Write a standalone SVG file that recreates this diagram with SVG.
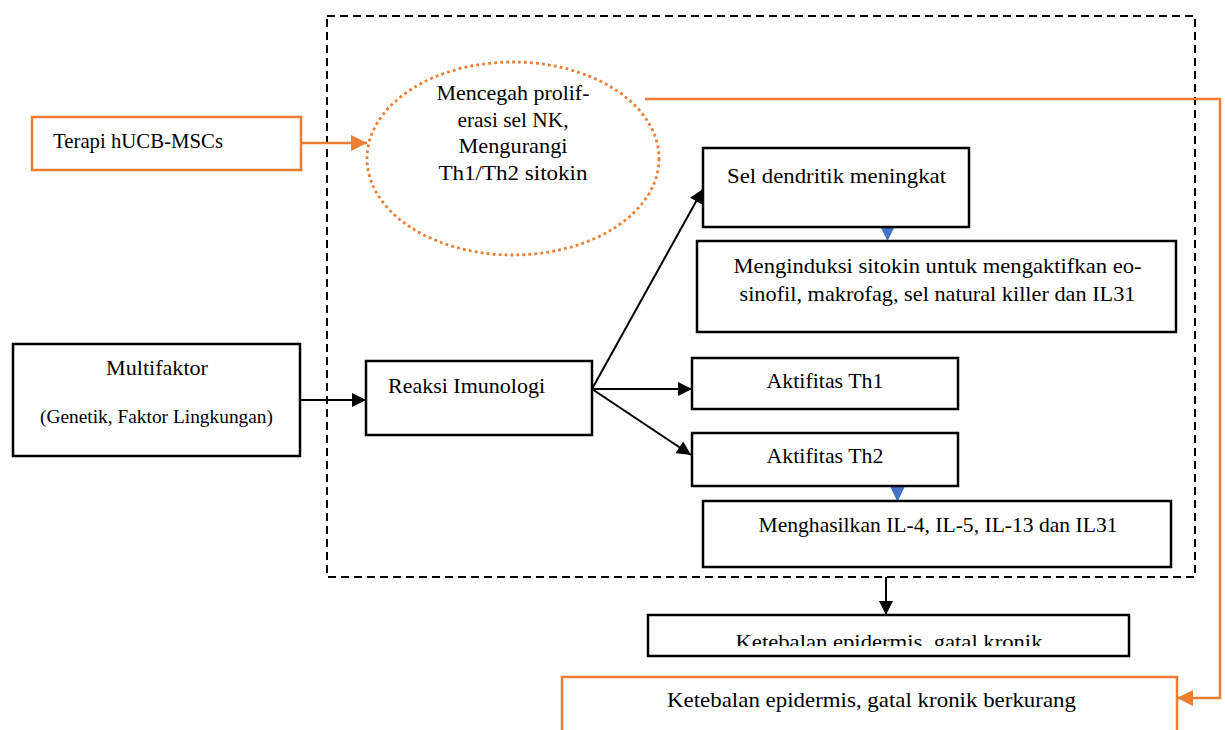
<svg xmlns="http://www.w3.org/2000/svg" width="1225" height="730" viewBox="0 0 1225 730">
<defs>
<style>
.t{font-family:"Liberation Serif","Times New Roman",serif;font-size:21px;fill:#000}
.c{text-anchor:middle}
.box{fill:#fff;stroke:#000;stroke-width:2.5}
.obox{fill:#fff;stroke:#ED7D31;stroke-width:2.5}
.ln{fill:none;stroke:#000;stroke-width:2}
.oln{fill:none;stroke:#ED7D31;stroke-width:2.5}
</style>
<marker id="ah" markerUnits="userSpaceOnUse" markerWidth="16" markerHeight="14" refX="14" refY="7" orient="auto">
<path d="M0,0 L14,7 L0,14 Z" fill="#000"/>
</marker>
<marker id="oh" markerUnits="userSpaceOnUse" markerWidth="18" markerHeight="16" refX="16" refY="8" orient="auto">
<path d="M0,0 L16,8 L0,16 Z" fill="#ED7D31"/>
</marker>
<clipPath id="clipK"><rect x="640" y="610" width="500" height="36"/></clipPath>
</defs>

<rect x="327" y="16" width="868" height="561" fill="none" stroke="#000" stroke-width="2" stroke-dasharray="8 5"/>

<g id="connectors">
<line class="oln" x1="301" y1="143" x2="367" y2="143" marker-end="url(#oh)"/>
<polyline class="oln" points="645,99 1220,99 1220,698 1177,698" marker-end="url(#oh)"/>
<line class="ln" x1="301" y1="400" x2="366" y2="400" marker-end="url(#ah)"/>
<line class="ln" x1="592" y1="389" x2="703" y2="189" marker-end="url(#ah)"/>
<line class="ln" x1="592" y1="389" x2="692" y2="389" marker-end="url(#ah)"/>
<line class="ln" x1="592" y1="389" x2="691" y2="455" marker-end="url(#ah)"/>
<line class="ln" x1="886" y1="577" x2="886" y2="615" marker-end="url(#ah)"/>
<polygon points="880.5,227 894.5,227 887.5,241" fill="#4472C4"/>
<polygon points="890,486 905,486 897.5,502" fill="#4472C4"/>
</g>

<g id="terapi">
<rect class="obox" x="32" y="117" width="269" height="53"/>
<text class="t" x="53" y="148" textLength="170" lengthAdjust="spacingAndGlyphs">Terapi hUCB-MSCs</text>
</g>

<g id="ellipse">
<ellipse cx="513" cy="158.5" rx="146" ry="96.5" fill="none" stroke="#ED7D31" stroke-width="2.8" stroke-dasharray="2.8 3.2"/>
<text class="t c" x="513" y="100" textLength="153" lengthAdjust="spacingAndGlyphs">Mencegah prolif-</text>
<text class="t c" x="513" y="127" textLength="111" lengthAdjust="spacingAndGlyphs">erasi sel NK,</text>
<text class="t c" x="513" y="153" textLength="109" lengthAdjust="spacingAndGlyphs">Mengurangi</text>
<text class="t c" x="513" y="180" textLength="149" lengthAdjust="spacingAndGlyphs">Th1/Th2 sitokin</text>
</g>

<g id="dendritik">
<rect class="box" x="703" y="148" width="266" height="79"/>
<text class="t c" x="836.5" y="183" textLength="219" lengthAdjust="spacingAndGlyphs">Sel dendritik meningkat</text>
</g>

<g id="menginduksi">
<rect class="box" x="697" y="241" width="479" height="91"/>
<text class="t c" x="937.5" y="273" textLength="408" lengthAdjust="spacingAndGlyphs">Menginduksi sitokin untuk mengaktifkan eo-</text>
<text class="t c" x="937.5" y="301" textLength="396" lengthAdjust="spacingAndGlyphs">sinofil, makrofag, sel natural killer dan IL31</text>
</g>

<g id="multifaktor">
<rect class="box" x="13" y="344" width="287" height="112"/>
<text class="t c" x="157" y="375" textLength="102" lengthAdjust="spacingAndGlyphs">Multifaktor</text>
<text class="t c" x="156.5" y="423" style="font-size:18px" textLength="233" lengthAdjust="spacingAndGlyphs">(Genetik, Faktor Lingkungan)</text>
</g>

<g id="reaksi">
<rect class="box" x="366" y="361" width="226" height="74"/>
<text class="t" x="388" y="393" textLength="157" lengthAdjust="spacingAndGlyphs">Reaksi Imunologi</text>
</g>

<g id="th1">
<rect class="box" x="692" y="358" width="266" height="51"/>
<text class="t c" x="825" y="388" textLength="117" lengthAdjust="spacingAndGlyphs">Aktifitas Th1</text>
</g>

<g id="th2">
<rect class="box" x="692" y="433" width="266" height="53"/>
<text class="t c" x="825" y="463" textLength="117" lengthAdjust="spacingAndGlyphs">Aktifitas Th2</text>
</g>

<g id="menghasilkan">
<rect class="box" x="703" y="501" width="468" height="66"/>
<text class="t c" x="938" y="532" textLength="359" lengthAdjust="spacingAndGlyphs">Menghasilkan IL-4, IL-5, IL-13 dan IL31</text>
</g>

<g id="ketebalan">
<rect class="box" x="648" y="615" width="481" height="41"/>
<text class="t c" x="889" y="649" clip-path="url(#clipK)" textLength="307" lengthAdjust="spacingAndGlyphs">Ketebalan epidermis, gatal kronik</text>
</g>

<g id="berkurang">
<rect class="obox" x="562" y="677" width="615" height="70"/>
<text class="t c" x="871.5" y="707" textLength="409" lengthAdjust="spacingAndGlyphs">Ketebalan epidermis, gatal kronik berkurang</text>
</g>
</svg>
